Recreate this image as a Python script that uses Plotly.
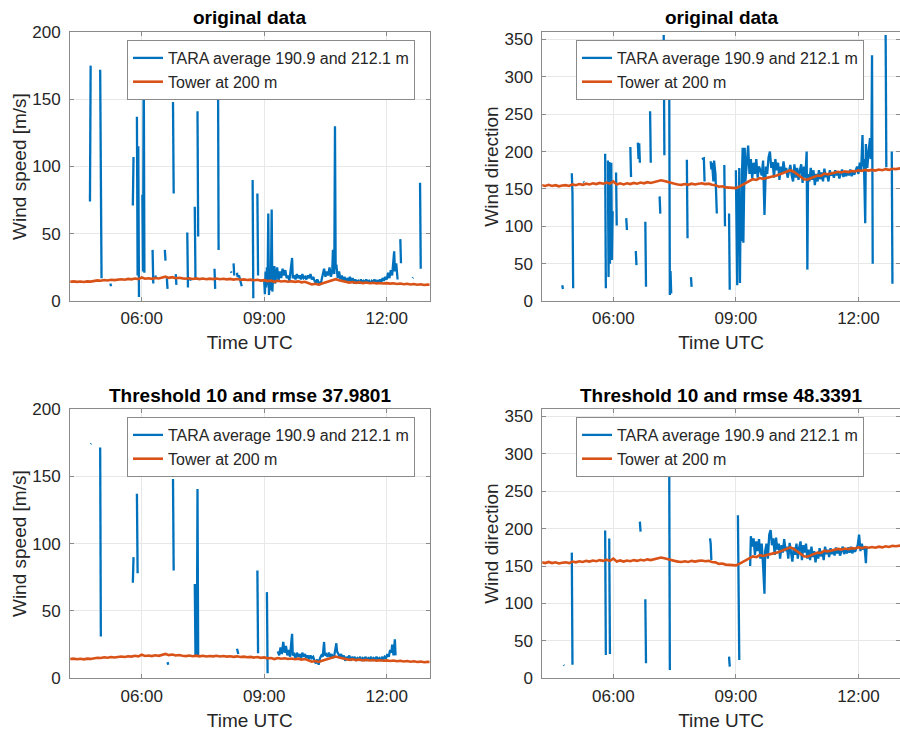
import plotly.graph_objects as go

DAY = "2021-01-01 "
GAP = None

# ---------------- data ----------------
speed_tara_orig = [
    ("04:44", 74), ("04:45", 175), GAP,
    ("04:59", 172), ("05:00", 21), ("05:01", 17), GAP,
    ("05:14", 13), ("05:15", 11), GAP,
    ("05:47", 71), ("05:48", 107), GAP,
    ("05:53", 137), ("05:54", 19), ("05:55", 115), ("05:56", 3), GAP,
    ("06:01", 79), ("06:02", 22), ("06:03", 180), ("06:04", 21), GAP,
    ("06:16", 38), ("06:17", 13), GAP,
    ("06:20", 19), ("06:21", 17), GAP,
    ("06:34", 38), ("06:35", 30), GAP,
    ("06:37", 17), ("06:38", 9), GAP,
    ("06:46", 148), ("06:47", 80), GAP,
    ("06:50", 20), ("06:51", 12), GAP,
    ("07:07", 51), ("07:08", 10), GAP,
    ("07:11", 17), ("07:12", 15), GAP,
    ("07:18", 70), ("07:19", 17), GAP,
    ("07:22", 141), ("07:23", 48), GAP,
    ("07:47", 24), ("07:48", 9), GAP,
    ("07:52", 194), ("07:53", 38), GAP,
    ("08:11", 22), ("08:12", 21), GAP,
    ("08:15", 28), ("08:16", 19), GAP,
    ("08:20", 21), ("08:21", 18), ("08:23", 19), ("08:25", 15), ("08:27", 11), GAP,
    ("08:43", 90), ("08:44", 2), GAP,
    ("08:50", 80), ("08:51", 19), GAP,
    ("09:00", 15), ("09:01", 5), ("09:02", 22), ("09:03", 10), ("09:04", 25), ("09:05", 12),
    ("09:06", 65), ("09:07", 4.5), ("09:08", 15), ("09:09", 8), ("09:10", 20), ("09:11", 68),
    ("09:12", 7), ("09:13", 18), ("09:15", 26), ("09:16", 13), ("09:18", 20), ("09:19", 25),
    ("09:21", 15), ("09:23", 22), ("09:25", 17), ("09:27", 24), ("09:29", 19), ("09:31", 23),
    ("09:33", 17), ("09:35", 19), ("09:37", 15), ("09:39", 26), ("09:41", 32), ("09:42", 17),
    ("09:44", 19), ("09:46", 16), ("09:48", 20), ("09:50", 17), ("09:52", 19), ("09:54", 16),
    ("09:56", 20), ("09:58", 17), ("10:00", 18), ("10:02", 16), ("10:04", 19), ("10:06", 17),
    ("10:08", 20), ("10:10", 16), ("10:12", 18), ("10:14", 15), ("10:16", 13), ("10:18", 16),
    ("10:20", 14), ("10:22", 12), ("10:24", 15), ("10:26", 20), ("10:28", 24), ("10:30", 18),
    ("10:32", 22), ("10:34", 19), ("10:36", 25), ("10:38", 18), ("10:40", 22), ("10:41", 38),
    ("10:43", 20), ("10:44", 130), ("10:45", 24), ("10:46", 27), ("10:48", 17), ("10:50", 22),
    ("10:52", 16), ("10:54", 19), ("10:56", 15), ("10:58", 18), ("11:00", 14), ("11:02", 17),
    ("11:04", 15), ("11:06", 18), ("11:08", 14), ("11:10", 17), ("11:12", 13), ("11:14", 16),
    ("11:16", 14), ("11:18", 15), ("11:20", 13), ("11:22", 16), ("11:24", 14), ("11:26", 15),
    ("11:28", 13), ("11:30", 16), ("11:32", 14), ("11:34", 15), ("11:36", 13), ("11:38", 15),
    ("11:40", 14), ("11:42", 16), ("11:44", 13), ("11:46", 15), ("11:48", 14), ("11:50", 16),
    ("11:52", 14), ("11:54", 17), ("11:56", 15), ("11:58", 18), ("12:00", 16), ("12:02", 21),
    ("12:04", 17), ("12:06", 23), ("12:08", 19), ("12:10", 28), ("12:11", 37), ("12:12", 22),
    ("12:14", 28), ("12:16", 16), GAP,
    ("12:20", 46), ("12:21", 28), GAP,
    ("12:38", 17), ("12:38:40", 17.5), GAP,
    ("12:49", 88), ("12:50", 24),
]

dir_tara_orig = [
    ("04:45", 21), ("04:46", 16), GAP,
    ("04:59", 171), ("05:00", 144), ("05:01", 17), GAP,
    ("05:16", 160), ("05:17", 159), GAP,
    ("05:48", 197), ("05:49", 17), GAP,
    ("05:52", 188), ("05:53", 32), ("05:54", 186), ("05:55", 50), ("05:57", 185), ("05:58", 55),
    ("05:59", 120), GAP,
    ("06:04", 172), ("06:05", 101), GAP,
    ("06:19", 111), ("06:20", 95), GAP,
    ("06:25", 206), ("06:26", 166), GAP,
    ("06:33", 67), ("06:34", 48), GAP,
    ("06:36", 212), ("06:37", 190), ("06:38", 211), ("06:39", 185), GAP,
    ("06:47", 106), ("06:48", 19), GAP,
    ("06:54", 254), ("06:55", 185), GAP,
    ("07:08", 140), ("07:09", 117), GAP,
    ("07:14", 356), ("07:15", 195), GAP,
    ("07:22", 330), ("07:23", 8), ("07:24", 40), ("07:25", 10), GAP,
    ("07:48", 189), ("07:49", 84), GAP,
    ("07:54", 32), ("07:55", 19), GAP,
    ("08:10", 190), ("08:13", 191), ("08:14", 160), GAP,
    ("08:23", 187), ("08:24", 176), ("08:25", 185), ("08:27", 160), ("08:28", 188), ("08:30", 170),
    ("08:32", 117), GAP,
    ("08:43", 182), ("08:44", 100), GAP,
    ("08:50", 117), ("08:51", 15), GAP,
    ("09:00", 175), ("09:01", 60), ("09:02", 21), ("09:03", 150), ("09:04", 90), ("09:05", 178),
    ("09:06", 24), ("09:07", 140), ("09:08", 80), ("09:09", 170), ("09:10", 205), ("09:11", 78),
    ("09:12", 150), ("09:13", 205), ("09:14", 160), ("09:16", 180), ("09:18", 208), ("09:20", 170),
    ("09:22", 190), ("09:24", 164), ("09:26", 185), ("09:28", 170), ("09:30", 190), ("09:32", 165),
    ("09:34", 180), ("09:36", 175), ("09:38", 168), ("09:40", 188), ("09:42", 115), ("09:44", 180),
    ("09:46", 170), ("09:48", 192), ("09:50", 200), ("09:52", 178), ("09:54", 186), ("09:56", 165),
    ("09:58", 190), ("10:00", 175), ("10:02", 185), ("10:04", 162), ("10:06", 180), ("10:08", 170),
    ("10:10", 187), ("10:12", 172), ("10:14", 178), ("10:16", 165), ("10:18", 176), ("10:20", 182),
    ("10:22", 168), ("10:24", 160), ("10:26", 183), ("10:28", 165), ("10:30", 178), ("10:32", 162),
    ("10:34", 175), ("10:36", 183), ("10:38", 158), ("10:40", 180), ("10:42", 165), ("10:44", 200),
    ("10:45", 42), ("10:46", 170), ("10:48", 160), ("10:50", 178), ("10:52", 162), ("10:54", 175),
    ("10:56", 155), ("10:58", 170), ("11:00", 160), ("11:02", 175), ("11:04", 163), ("11:06", 172),
    ("11:08", 160), ("11:10", 177), ("11:12", 166), ("11:14", 170), ("11:16", 160), ("11:18", 175),
    ("11:20", 168), ("11:22", 172), ("11:24", 165), ("11:26", 175), ("11:28", 168), ("11:30", 173),
    ("11:32", 164), ("11:34", 170), ("11:36", 176), ("11:38", 166), ("11:40", 172), ("11:42", 167),
    ("11:44", 174), ("11:46", 168), ("11:48", 176), ("11:50", 167), ("11:52", 173), ("11:54", 169),
    ("11:56", 175), ("11:58", 180), ("12:00", 170), ("12:02", 185), ("12:04", 175), ("12:06", 222),
    ("12:07", 180), ("12:08", 190), ("12:09", 150), ("12:10", 104), ("12:11", 210), ("12:13", 178),
    ("12:15", 200), ("12:17", 218), ("12:18", 190), ("12:19", 195), ("12:20", 329), ("12:21", 50), GAP,
    ("12:40", 356), ("12:41", 179), GAP,
    ("12:49", 200), ("12:50", 23),
]

speed_tara_filt = [
    ("04:45", 174), ("04:45:40", 174.5), GAP,
    ("04:59", 171.5), ("05:00", 31), GAP,
    ("05:47", 71), ("05:48", 90), GAP,
    ("05:53", 137), ("05:54", 78), GAP,
    ("06:38", 12), ("06:39", 10), GAP,
    ("06:46", 148), ("06:47", 80), GAP,
    ("07:18", 70), ("07:19", 17), ("07:21", 17), ("07:22", 140.6), ("07:23", 17), GAP,
    ("08:20", 22), ("08:21", 20), ("08:22", 18), GAP,
    ("08:50", 80), ("08:51", 18.6), GAP,
    ("09:04", 64), ("09:05", 3.7), GAP,
    ("09:20", 20), ("09:22", 17), ("09:24", 23), ("09:26", 18), ("09:28", 27), ("09:30", 19),
    ("09:32", 24), ("09:34", 17), ("09:36", 21), ("09:38", 16), ("09:40", 28), ("09:41", 33),
    ("09:42", 17), ("09:44", 18), ("09:46", 15), ("09:48", 19), ("09:50", 16), ("09:52", 18),
    ("09:54", 15), ("09:56", 19), ("09:58", 16), ("10:00", 18), ("10:02", 15), ("10:04", 17),
    ("10:06", 14), ("10:08", 17), ("10:10", 15), ("10:12", 16), ("10:14", 13), ("10:16", 11),
    ("10:18", 14), ("10:20", 10), ("10:22", 15), ("10:24", 17), ("10:26", 16), ("10:28", 27),
    ("10:29", 17), ("10:31", 18), ("10:33", 16), ("10:35", 19), ("10:37", 16), ("10:39", 18),
    ("10:41", 15), ("10:43", 17), ("10:45", 23), ("10:46", 26), ("10:47", 20), ("10:49", 18),
    ("10:51", 16), ("10:53", 18), ("10:55", 15), ("10:57", 17), ("10:59", 13), ("11:01", 16),
    ("11:03", 14), ("11:05", 17), ("11:07", 13), ("11:09", 16), ("11:11", 14), ("11:13", 16),
    ("11:15", 13), ("11:17", 15), ("11:19", 14), ("11:21", 16), ("11:23", 13), ("11:25", 15),
    ("11:27", 14), ("11:29", 16), ("11:31", 13), ("11:33", 15), ("11:35", 14), ("11:37", 16),
    ("11:39", 13), ("11:41", 15), ("11:43", 14), ("11:45", 16), ("11:47", 14), ("11:49", 15),
    ("11:51", 13), ("11:53", 16), ("11:55", 14), ("11:57", 16), ("11:59", 15), ("12:01", 18),
    ("12:03", 16), ("12:05", 21), ("12:07", 19), ("12:08", 25), ("12:10", 17), ("12:12", 29),
    ("12:13", 17),
]

dir_tara_filt = [
    ("04:47", 17.8), ("04:47:40", 17), GAP,
    ("04:59", 168), ("05:00", 18), GAP,
    ("05:48", 197.5), ("05:49", 31), GAP,
    ("05:54", 187), ("05:55", 32.5), GAP,
    ("06:39", 209.5), ("06:40", 196), GAP,
    ("06:47", 105.7), ("06:48", 20), GAP,
    ("07:22", 320), ("07:23", 11), GAP,
    ("08:22", 187), ("08:23", 180), ("08:24", 158), GAP,
    ("08:50", 29), ("08:51", 15.6), GAP,
    ("09:03", 218), ("09:04", 100), ("09:05", 24.5), GAP,
    ("09:21", 150), ("09:22", 190), ("09:24", 176), ("09:26", 187), ("09:28", 165), ("09:30", 183),
    ("09:32", 170), ("09:34", 186), ("09:36", 160), ("09:38", 180), ("09:40", 150), ("09:42", 113),
    ("09:43", 170), ("09:45", 180), ("09:47", 160), ("09:49", 192), ("09:51", 198), ("09:53", 178),
    ("09:55", 187), ("09:57", 165), ("09:59", 188), ("10:01", 172), ("10:03", 180), ("10:05", 160),
    ("10:07", 178), ("10:09", 168), ("10:11", 186), ("10:13", 170), ("10:15", 176), ("10:17", 160),
    ("10:19", 181), ("10:21", 165), ("10:23", 156), ("10:25", 175), ("10:27", 165), ("10:29", 180),
    ("10:31", 160), ("10:33", 175), ("10:35", 183), ("10:37", 158), ("10:39", 178), ("10:41", 168),
    ("10:43", 180), ("10:45", 160), ("10:47", 172), ("10:49", 158), ("10:51", 176), ("10:53", 162),
    ("10:55", 170), ("10:57", 155), ("10:59", 168), ("11:01", 160), ("11:03", 174), ("11:05", 163),
    ("11:07", 170), ("11:09", 158), ("11:11", 176), ("11:13", 166), ("11:15", 172), ("11:17", 162),
    ("11:19", 174), ("11:21", 166), ("11:23", 172), ("11:25", 164), ("11:27", 175), ("11:29", 167),
    ("11:31", 173), ("11:33", 164), ("11:35", 171), ("11:37", 176), ("11:39", 166), ("11:41", 172),
    ("11:43", 167), ("11:45", 175), ("11:47", 168), ("11:49", 176), ("11:51", 167), ("11:53", 173),
    ("11:55", 169), ("11:57", 175), ("11:59", 178), ("12:01", 192), ("12:03", 170), ("12:05", 180),
    ("12:07", 172), ("12:09", 176), ("12:11", 154), ("12:12", 175),
]

tower_times = [
    "04:15", "04:20", "04:25", "04:30", "04:35", "04:40", "04:45", "04:50", "04:55",
    "05:00", "05:05", "05:10", "05:15", "05:20", "05:25", "05:30", "05:35", "05:40", "05:45", "05:50", "05:55",
    "06:00", "06:05", "06:10", "06:15", "06:20", "06:25", "06:30", "06:35", "06:40", "06:45", "06:50", "06:55",
    "07:00", "07:05", "07:10", "07:15", "07:20", "07:25", "07:30", "07:35", "07:40", "07:45", "07:50", "07:55",
    "08:00", "08:05", "08:10", "08:15", "08:20", "08:25", "08:30", "08:35", "08:40", "08:45", "08:50", "08:55",
    "09:00", "09:05", "09:10", "09:15", "09:20", "09:25", "09:30", "09:35", "09:40", "09:45", "09:50", "09:55",
    "10:00", "10:05", "10:10", "10:15", "10:20", "10:25", "10:30", "10:35", "10:40", "10:45", "10:50", "10:55",
    "11:00", "11:05", "11:10", "11:15", "11:20", "11:25", "11:30", "11:35", "11:40", "11:45", "11:50", "11:55",
    "12:00", "12:05", "12:10", "12:15", "12:20", "12:25", "12:30", "12:35", "12:40", "12:45", "12:50", "12:55",
    "13:00", "13:05",
]
tower_speed = [
    14.3, 14.6, 14.2, 14.5, 14.1, 14.6, 14.4, 14.9, 15.3,
    15.1, 15.6, 15.3, 15.8, 15.5, 15.9, 16.2, 15.8, 16.4, 16.1, 16.7, 16.3,
    17.5, 16.6, 16.9, 16.5, 17.1, 16.7, 17.3, 18.1, 17.2, 17.7, 16.9, 17.3,
    16.8, 16.5, 16.9, 16.4, 16.8, 16.3, 16.7, 16.2, 16.6, 16.3, 16.7, 16.2,
    16.5, 16.1, 16.4, 15.9, 16.3, 15.8, 16.1, 15.6, 15.9, 15.4, 15.8, 15.2,
    15.5, 14.8, 15.1, 14.3, 15.0, 14.5, 14.9, 14.3, 14.7, 14.2, 14.6, 13.9,
    14.3, 13.2, 12.3, 12.8, 12.1, 13.0, 13.8, 14.9, 15.6, 16.2, 15.5, 14.8,
    14.3, 13.7, 14.1, 13.5, 13.9, 13.3, 13.7, 13.2, 13.6, 13.1, 13.4, 13.0,
    13.3, 12.9, 13.2, 12.7, 13.0, 12.5, 12.8, 12.3, 12.6, 12.1, 12.4, 11.9,
    12.2, 12.0,
]
tower_dir = [
    155, 154, 155.5, 154, 155, 153.5, 154.5, 155, 154,
    156, 155, 156.5, 155.5, 157, 156, 157.5, 156.5, 158, 157, 158.5, 157,
    160, 156, 157.5, 156, 157.5, 156.5, 158, 157, 158.5, 157.5, 159, 158,
    159.5, 160, 161.5, 160.5, 159, 158, 157, 156, 155.5, 156.5, 155.5, 157,
    156, 157, 157.5, 156.5, 157, 155.5, 155, 153, 153.5, 152, 151.5, 150.5,
    151, 153, 155.5, 158, 161, 163, 162, 164.5, 163.5, 165, 166, 167,
    168, 170, 172, 174, 175, 173, 170, 166, 163, 162.5, 164, 166,
    168, 167.5, 170.5, 169.5, 171, 172, 173, 172, 173.5, 172.5, 174, 173.5,
    175, 174, 175.5, 174.5, 175.5, 174.5, 176, 175, 176.5, 175.5, 177, 176.5,
    177.5, 178,
]

tara_name = "TARA average 190.9 and 212.1 m"
tower_name = "Tower at 200 m"
titles = ["original data", "original data", "Threshold 10 and rmse 37.9801", "Threshold 10 and rmse 48.3391"]
speed_ticks = [0, 50, 100, 150, 200]
dir_ticks = [0, 50, 100, 150, 200, 250, 300, 350]
time_ticks = ["06:00", "09:00", "12:00"]

# ---------------- helpers ----------------
def stamp(hm):
    return DAY + (hm if hm.count(":") == 2 else hm + ":00")

def split(pairs):
    xs, ys, last = [], [], None
    for p in pairs:
        if p is None:
            xs.append(last)
            ys.append(None)
        else:
            last = stamp(p[0])
            xs.append(last)
            ys.append(p[1])
    return xs, ys

BLUE = "#0072BD"
ORANGE = "#D95319"
FONT = "Liberation Sans, Arial, Helvetica, sans-serif"
TXT = "#262626"
AX = "#8a8a8a"
GRID = "#e8e8e8"

W, H = 900, 733
# plot-area pixel boxes (left, right, top, bottom)
boxes = [(70, 429.5, 32, 301), (542.3, 900, 32, 301),
         (70, 429.5, 409, 678.3), (542.3, 900, 409, 678.3)]
xranges = [(stamp("04:14:40"), stamp("13:02:53")), (stamp("04:15:40"), stamp("13:01:05")),
           (stamp("04:14:40"), stamp("13:02:53")), (stamp("04:15:40"), stamp("13:01:05"))]

fig = go.Figure()
tower_x = [stamp(t) for t in tower_times]
series = [(speed_tara_orig, tower_speed), (dir_tara_orig, tower_dir),
          (speed_tara_filt, tower_speed), (dir_tara_filt, tower_dir)]
for i, (tara, tower) in enumerate(series):
    k = "" if i == 0 else str(i + 1)
    lg = "legend" + k
    bx, by = split(tara)
    fig.add_trace(go.Scatter(x=bx, y=by, mode="lines", name=tara_name,
                             line=dict(color=BLUE, width=2.3), xaxis="x" + k, yaxis="y" + k,
                             legend=lg, connectgaps=False))
    fig.add_trace(go.Scatter(x=tower_x, y=tower, mode="lines", name=tower_name,
                             line=dict(color=ORANGE, width=2.6), xaxis="x" + k, yaxis="y" + k,
                             legend=lg))

layout = dict(width=W, height=H, margin=dict(l=0, r=0, t=0, b=0, pad=0, autoexpand=False),
              paper_bgcolor="white", plot_bgcolor="white",
              font=dict(family=FONT, color=TXT), annotations=[])
for i, (l, r, t, b) in enumerate(boxes):
    k = "" if i == 0 else str(i + 1)
    is_dir = i in (1, 3)
    layout["xaxis" + k] = dict(
        domain=[l / W, min(r / W, 1.0)], anchor="y" + k, type="date", automargin=False,
        range=list(xranges[i]), tickvals=[stamp(s) for s in time_ticks], ticktext=time_ticks,
        showgrid=True, gridcolor=GRID, gridwidth=1, zeroline=False,
        showline=True, linecolor=AX, linewidth=1, mirror="ticks",
        ticks="inside", ticklen=4, tickcolor=AX, ticklabelstandoff=2,
        tickfont=dict(size=17, color=TXT),
        title=dict(text="Time UTC", font=dict(size=19, color=TXT), standoff=8))
    layout["yaxis" + k] = dict(
        domain=[1 - b / H, 1 - t / H], anchor="x" + k, automargin=False,
        range=[0, 360] if is_dir else [0, 200],
        tickvals=dir_ticks if is_dir else speed_ticks,
        showgrid=True, gridcolor=GRID, gridwidth=1, zeroline=False,
        showline=True, linecolor=AX, linewidth=1, mirror="ticks",
        ticks="inside", ticklen=4, tickcolor=AX, ticklabelstandoff=5,
        tickfont=dict(size=17, color=TXT),
        title=dict(text="Wind direction" if is_dir else "Wind speed [m/s]",
                   font=dict(size=19, color=TXT), standoff=0))
    layout["annotations"].append(dict(
        text="<b>" + titles[i] + "</b>", x=(l + min(r, 901)) / 2 / W, y=1 - (t - 14) / H,
        xref="paper", yref="paper", xanchor="center", yanchor="middle",
        showarrow=False, font=dict(size=19, color="black", family=FONT)))
    leg_left = 127 if i in (0, 2) else 576
    layout["legend" + k] = dict(
        x=leg_left / W, y=1 - (t + 8) / H, xanchor="left", yanchor="top",
        bgcolor="white", bordercolor=AX, borderwidth=1,
        font=dict(size=16, color=TXT, family=FONT), tracegroupgap=0)

fig.update_layout(**layout)
fig.write_html("out.html")
